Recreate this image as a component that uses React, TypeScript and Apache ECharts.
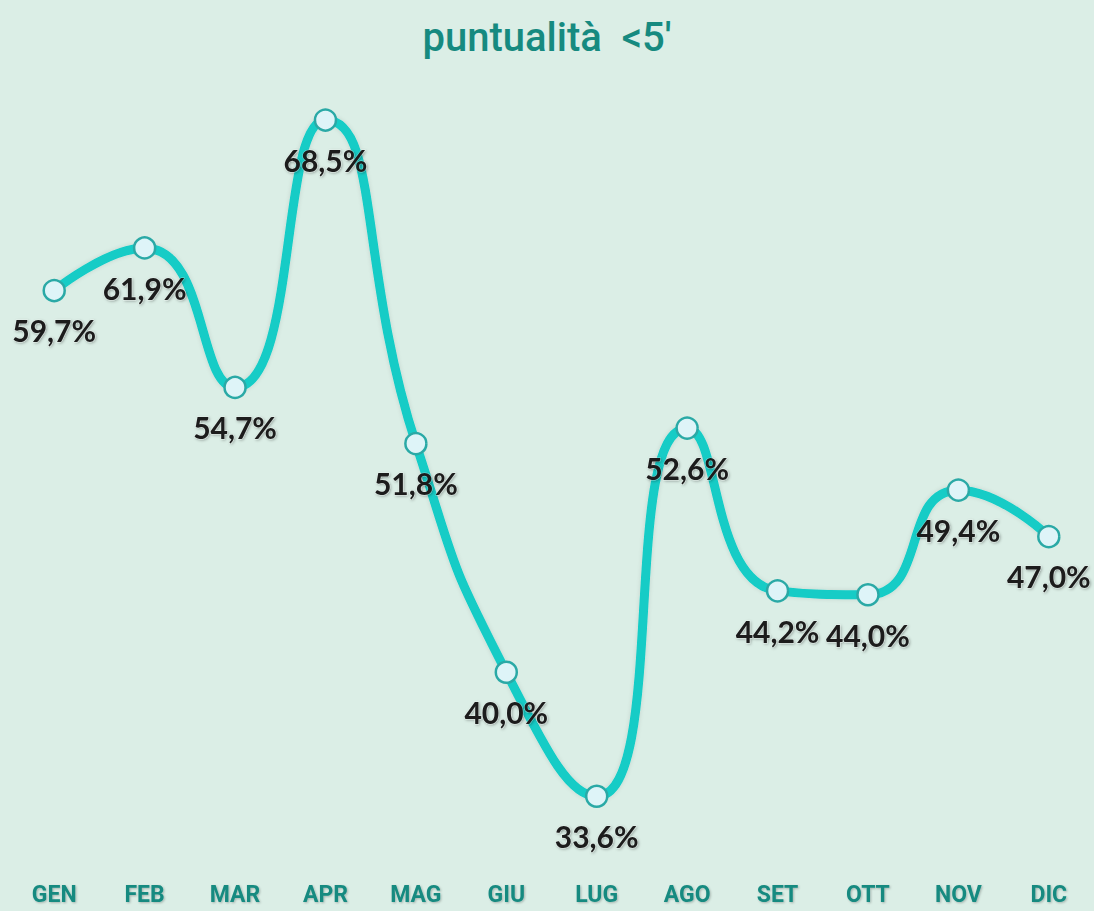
import React, { useEffect, useRef } from "react";
import * as echarts from "echarts";

const months = ["GEN", "FEB", "MAR", "APR", "MAG", "GIU", "LUG", "AGO", "SET", "OTT", "NOV", "DIC"];
const values = [59.7, 61.9, 54.7, 68.5, 51.8, 40.0, 33.6, 52.6, 44.2, 44.0, 49.4, 47.0];
const titleText = "puntualità  <5'";

export default function App() {
  const ref = useRef<HTMLDivElement>(null);
  useEffect(() => {
    const chart = echarts.init(ref.current!, null, { renderer: "svg" });
    chart.setOption({
      animation: false,
      backgroundColor: "#dbeee6",
      title: {
        text: titleText,
        left: "center",
        top: 12,
        textStyle: { color: "#168a80", fontFamily: "Roboto", fontWeight: 500, fontSize: 40 },
      },
      grid: { left: 9, right: -3, top: 91, bottom: 45 },
      xAxis: {
        type: "category",
        data: months,
        boundaryGap: true,
        axisLine: { show: false },
        axisTick: { show: false },
        axisLabel: {
          color: "#168a80",
          fontFamily: "Roboto",
          fontWeight: "bold",
          fontSize: 23,
          margin: 17,
          textShadowColor: "rgba(0,0,0,0.25)",
          textShadowBlur: 2,
          textShadowOffsetX: 1,
          textShadowOffsetY: 1,
        },
      },
      yAxis: {
        type: "value",
        min: 30,
        max: 70,
        show: false,
        splitLine: { show: false },
      },
      series: [
        {
          type: "line",
          data: values,
          smooth: 0.55,
          symbol: "circle",
          symbolSize: 21,
          lineStyle: { color: "#12ccc6", width: 9, shadowColor: "rgba(0,0,0,0.12)", shadowBlur: 4 },
          itemStyle: { color: "#def4f8", borderColor: "#2aa9a6", borderWidth: 2.5 },
          label: {
            show: true,
            position: "bottom",
            distance: 13,
            formatter: (p: any) => p.value.toFixed(1).replace(".", ",") + "%",
            color: "#1c1c1c",
            fontFamily: "Lato",
            fontWeight: "bold",
            fontSize: 30,
            textBorderColor: "rgba(255,255,255,0.35)",
            textBorderWidth: 1,
            textShadowColor: "rgba(0,0,0,0.35)",
            textShadowBlur: 3,
            textShadowOffsetX: 1,
            textShadowOffsetY: 1,
          },
        },
      ],
    });
    return () => chart.dispose();
  }, []);
  return <div ref={ref} style={{ position: "fixed", left: 0, top: 0, width: 1094, height: 911 }} />;
}
